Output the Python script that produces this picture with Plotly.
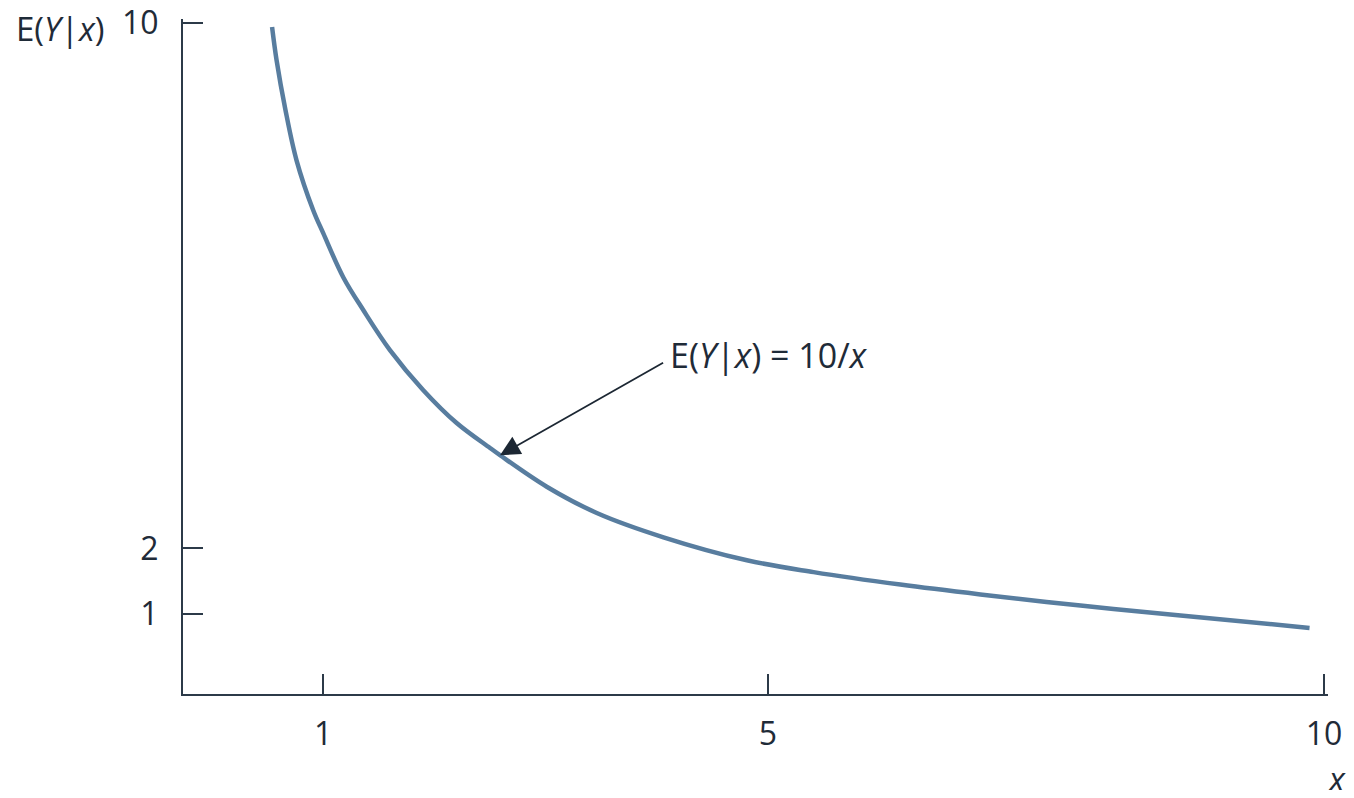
import plotly.graph_objects as go

# Curve values (in the chart's own axis units)
x_vals = [0.54, 0.58, 0.66, 0.76, 0.91, 1.00, 1.18, 1.36, 1.60, 1.90, 2.20, 2.50,
          2.59, 3.01, 3.46, 4.06, 4.81, 5.41, 6.19, 6.91, 7.81, 8.71, 9.87]
y_vals = [9.94, 9.44, 8.68, 7.91, 7.15, 6.80, 6.13, 5.63, 5.02, 4.41, 3.91, 3.53,
          3.42, 2.94, 2.54, 2.17, 1.82, 1.64, 1.45, 1.30, 1.13, 0.98, 0.79]

x_ticks = [1, 5, 10]
x_tick_labels = ["1", "5", "10"]
y_ticks = [1, 2, 10]
y_tick_labels = ["1", "2", "10"]

label_point = (2.59, 3.42)      # where the arrow points on the curve
label_tail = (4.07, 4.84)       # arrow tail near the label
label_text_pos = (4.10, 4.95)

AXIS = "#2c3a48"
TEXT = "#1f2b38"
CURVE = "#587d9f"
FONT = "Open Sans, Noto Sans, sans-serif"

fig = go.Figure()
fig.add_trace(go.Scatter(
    x=x_vals, y=y_vals, mode="lines",
    line=dict(color=CURVE, width=4.5, shape="spline", smoothing=1.0),
    hoverinfo="skip", showlegend=False,
))

fig.add_annotation(
    x=label_point[0], y=label_point[1], ax=label_tail[0], ay=label_tail[1],
    xref="x", yref="y", axref="x", ayref="y",
    text="", showarrow=True, arrowhead=2, arrowsize=2.2, arrowwidth=1.8,
    arrowcolor="#1c2733", standoff=0,
)
fig.add_annotation(
    x=label_text_pos[0], y=label_text_pos[1], xref="x", yref="y",
    text="E(<i>Y</i>|<i>x</i>) = 10/<i>x</i>", showarrow=False,
    xanchor="left", yanchor="middle",
    font=dict(family=FONT, size=34, color=TEXT),
)
# axis titles
fig.add_annotation(
    x=-0.148, y=0.986, xref="paper", yref="paper",
    text="E(<i>Y</i>|<i>x</i>)", showarrow=False,
    xanchor="left", yanchor="middle",
    font=dict(family=FONT, size=33, color=TEXT),
)
fig.add_annotation(
    x=1.007, y=-0.125, xref="paper", yref="paper",
    text="<i>x</i>", showarrow=False,
    xanchor="center", yanchor="middle",
    font=dict(family=FONT, size=33, color=TEXT),
)

axis_common = dict(
    showgrid=False, zeroline=False, showline=True, linecolor=AXIS, linewidth=2,
    ticks="inside", ticklen=20, tickwidth=2, tickcolor=AXIS,
    tickfont=dict(family=FONT, size=32, color=TEXT),
    tickmode="array", automargin=False, fixedrange=True,
    ticklabeloverflow="allow",
)
fig.update_xaxes(range=[-0.261, 10.036], tickvals=x_ticks, ticktext=x_tick_labels,
                 ticklabelstandoff=11, **axis_common)
fig.update_yaxes(range=[-0.216, 10.061], tickvals=y_ticks, ticktext=y_tick_labels,
                 ticklabelstandoff=16, **axis_common)

# page body has an 8px margin, so the figure is sized/offset to compensate
fig.update_layout(
    width=1338, height=782,
    margin=dict(l=175, r=18, t=11, b=96, pad=0),
    paper_bgcolor="white", plot_bgcolor="white",
    template="none",
    showlegend=False,
)

fig.write_html("out.html")
